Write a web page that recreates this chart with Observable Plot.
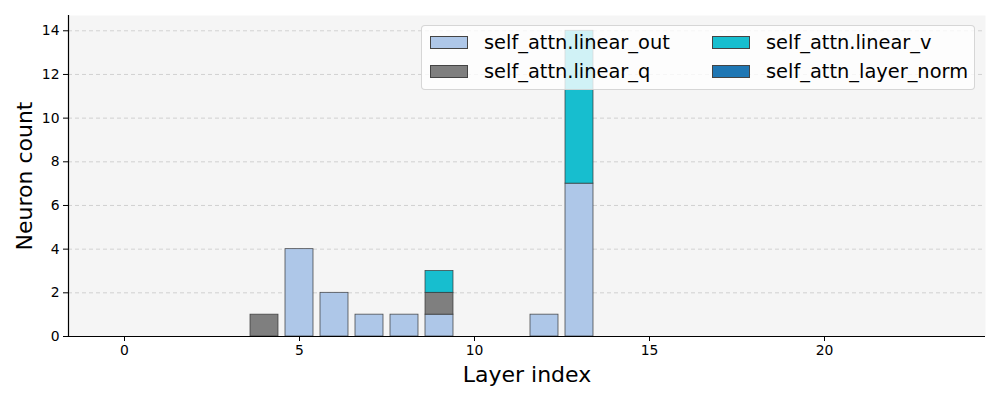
<!DOCTYPE html>
<html>
<head>
<meta charset="utf-8">
<script src="https://cdn.jsdelivr.net/npm/d3@7"></script>
<script src="https://cdn.jsdelivr.net/npm/@observablehq/plot@0.6"></script>
<style>
  html, body { margin: 0; padding: 0; background: #fff; }
  #wrap { position: relative; width: 1000px; height: 400px; font-family: "DejaVu Sans", sans-serif; }
  #legend {
    position: absolute; left: 421px; top: 25px;
    background: rgba(255,255,255,0.8); border: 1px solid rgba(204,204,204,0.8); border-radius: 4px;
    display: grid; grid-template-columns: 282px auto; grid-auto-rows: 29px;
    padding: 2px 0 0 8px; box-sizing: border-box; width: 554px; height: 65px;
    font-size: 19.4px; color: #000;
  }
  .item { display: flex; align-items: center; white-space: nowrap; }
  .sw { width: 38px; height: 13.6px; border: 0.8px solid #444; box-sizing: border-box; margin-right: 16px; flex: none; }
</style>
</head>
<body>
<div id="wrap"><div id="chart"></div><div id="legend"></div></div>
<script>
const series = ["self_attn.linear_out", "self_attn.linear_q", "self_attn.linear_v", "self_attn_layer_norm"];
const colors = ["#aec7e8", "#7f7f7f", "#17becf", "#1f77b4"];
const layers = [4, 5, 6, 7, 8, 9, 12, 13];
const linearOut = [0, 4, 2, 1, 1, 1, 1, 7];
const linearQ   = [1, 0, 0, 0, 0, 1, 0, 0];
const linearV   = [0, 0, 0, 0, 0, 1, 0, 7];
const layerNorm = [0, 0, 0, 0, 0, 0, 0, 0];
const xTicks = [0, 5, 10, 15, 20];
const yTicks = [0, 2, 4, 6, 8, 10, 12, 14];
const xDomain = [-1.6, 24.6];
const yDomain = [0, 14.7];
const barWidth = 0.8;

const values = [linearOut, linearQ, linearV, layerNorm];
const data = [];
series.forEach((s, si) => layers.forEach((l, li) => {
  if (values[si][li] > 0) data.push({layer: l, series: s, count: values[si][li]});
}));

const chart = Plot.plot({
  width: 1000, height: 400,
  marginLeft: 68, marginRight: 15, marginTop: 15, marginBottom: 64,
  style: {fontFamily: "DejaVu Sans, sans-serif", fontSize: "13.9px", color: "#000", background: "#fff"},
  x: {domain: xDomain, ticks: xTicks, label: null},
  y: {domain: yDomain, ticks: yTicks, label: null},
  color: {domain: series, range: colors},
  marks: [
    Plot.frame({fill: "#f5f5f5", stroke: null}),
    Plot.gridY(yTicks, {stroke: "#c8c8c8", strokeOpacity: 1, strokeDasharray: "4,3", strokeWidth: 0.8}),
    Plot.rectY(data, Plot.stackY({
      x1: d => d.layer - barWidth / 2,
      x2: d => d.layer + barWidth / 2,
      y: "count", fill: "series",
      stroke: "#333", strokeWidth: 0.8, strokeOpacity: 0.85
    })),
    Plot.ruleY([0], {stroke: "#000", strokeWidth: 1.2}),
    Plot.ruleX([xDomain[0]], {stroke: "#000", strokeWidth: 1.2}),
    Plot.axisX({ticks: xTicks, tickSize: 5, tickPadding: 4, label: null}),
    Plot.axisY({ticks: yTicks, tickSize: 5, tickPadding: 4, label: null}),
    Plot.text(["Layer index"], {frameAnchor: "bottom", lineAnchor: "middle", textAnchor: "middle", dy: 38, text: d => d, fontSize: 22, fill: "#000"}),
    Plot.text(["Neuron count"], {frameAnchor: "left", lineAnchor: "middle", textAnchor: "middle", dx: -44, rotate: -90, text: d => d, fontSize: 22, fill: "#000"})
  ]
});
document.getElementById("chart").appendChild(chart);

const order = [0, 2, 1, 3];
const legend = document.getElementById("legend");
order.forEach(i => {
  const it = document.createElement("div");
  it.className = "item";
  const sw = document.createElement("span");
  sw.className = "sw"; sw.style.background = colors[i];
  const tx = document.createElement("span");
  tx.textContent = series[i];
  it.appendChild(sw); it.appendChild(tx);
  legend.appendChild(it);
});
</script>
</body>
</html>
